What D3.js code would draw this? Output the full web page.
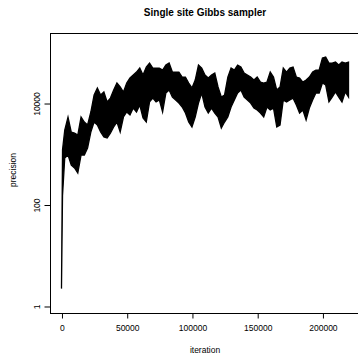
<!DOCTYPE html>
<html>
<head>
<meta charset="utf-8">
<script src="https://cdn.jsdelivr.net/npm/d3@7"></script>
<style>
  body { margin: 0; background: #fff; }
  svg { display: block; font-family: "Liberation Sans", Arial, sans-serif; }
</style>
</head>
<body>
<svg id="chart" width="358" height="354"></svg>
<script>
const iterK = [0, 0.8, 2.5, 5, 7.5, 10, 12.5, 15, 17.5, 20, 22.5, 25,
  27.5, 30, 32.5, 35, 37.5, 40, 42.5, 45, 47.5, 50, 52.5, 55, 57.5, 60,
  62.5, 65, 67.5, 70, 72.5, 75, 77.5, 80, 82.5, 85, 87.5, 90, 92.5, 95,
  97.5, 100, 102.5, 105, 107.5, 110, 112.5, 115, 117.5, 120, 122.5, 125,
  127.5, 130, 132.5, 135, 137.5, 140, 142.5, 145, 147.5, 150, 152.5, 155,
  157.5, 160, 162.5, 165, 167.5, 170, 172.5, 175, 177.5, 180, 182.5, 185,
  187.5, 190, 192.5, 195, 197.5, 200, 202.5, 205, 207.5, 210, 212.5, 215,
  217.5, 220];

// upper and lower edge of the sampled precision trace
const upper = [2.2, 1200,
  2940, 5300, 2680, 2560, 2340, 5300, 4220, 3690, 6650, 14400,
  19800, 14400, 16500, 10500, 12500, 18000, 24800, 20700, 16500, 24800,
  31100, 35600, 40800, 48900, 35600, 51200, 61400, 48900, 48900, 48900,
  44700, 56100, 61400, 40800, 40800, 40800, 32500, 32500, 24800, 19800,
  28400, 56100, 48900, 35600, 31100, 35600, 39000, 20700, 13100, 14400,
  32500, 48900, 44700, 56100, 51200, 39000, 35600, 32500, 28400, 32500,
  25900, 24800, 25900, 40800, 32500, 18000, 20700, 48900, 40800, 48900,
  51200, 32500, 31100, 25900, 28400, 32500, 40800, 44700, 44700, 77000,
  80600, 61400, 61400, 64300, 56100, 64300, 61400, 64300];

const lower = [2.2, 150,
  825, 945, 600, 524, 418, 945, 945, 1300, 2680, 4220,
  3690, 2680, 2140, 2040, 2560, 3370, 4220, 2680, 5300, 6650,
  5800, 7970, 6650, 9130, 5060, 4220, 10500, 12500, 10500, 11500,
  6650, 15700, 18000, 13100, 11500, 10000, 8340, 6350, 4220, 3370,
  5300, 10000, 15700, 8340, 6350, 7970, 6350, 5300, 3220, 4220,
  5300, 8340, 11500, 15700, 18000, 13100, 11500, 10000, 7970, 7280,
  6350, 5300, 8340, 7280, 7970, 3370, 3690, 11500, 10500, 11500,
  12500, 9130, 6350, 7280, 4620, 7970, 11500, 15700, 15700, 24800,
  22600, 10500, 13100, 16500, 13100, 10500, 16500, 13100];

const xTicks = [0, 50000, 100000, 150000, 200000];
const yTicks = [1, 100, 10000];

const svg = d3.select("#chart");
const plotLeft = 50, plotRight = 360, plotTop = 33, plotBottom = 313;

const x = d3.scaleLinear().domain([-8800, 228800]).range([plotLeft, plotRight]);
const y = d3.scaleLog().domain([Math.pow(10, -0.138), Math.pow(10, 5.38)]).range([plotBottom, plotTop]);

const data = iterK.map((k, i) => ({ iter: k * 1000, hi: upper[i], lo: lower[i] }));

const area = d3.area()
  .x(d => x(d.iter))
  .y0(d => y(d.lo))
  .y1(d => y(d.hi));

svg.append("path")
  .datum(data)
  .attr("d", area)
  .attr("fill", "#000")
  .attr("stroke", "#000")
  .attr("stroke-width", 1.3)
  .attr("stroke-linejoin", "miter")
  .attr("stroke-miterlimit", 8);

// box
svg.append("rect")
  .attr("x", plotLeft + 0.5).attr("y", plotTop + 0.5)
  .attr("width", plotRight - plotLeft).attr("height", plotBottom - plotTop)
  .attr("fill", "none").attr("stroke", "#000").attr("stroke-width", 1);

// axes
const xAxis = svg.append("g")
  .attr("transform", `translate(0.5,${plotBottom + 0.5})`)
  .call(d3.axisBottom(x).tickValues(xTicks).tickSize(5).tickPadding(6).tickFormat(d3.format("d")));
xAxis.select(".domain").remove();
xAxis.selectAll("text").attr("font-size", 8.5).attr("font-family", null);

const yAxis = svg.append("g")
  .attr("transform", `translate(${plotLeft + 0.5},0.5)`)
  .call(d3.axisLeft(y).tickValues(yTicks).tickSize(6).tickFormat(d3.format("d")));
yAxis.select(".domain").remove();
yAxis.selectAll("text")
  .attr("font-size", 8.5).attr("font-family", null)
  .attr("text-anchor", "middle")
  .attr("dy", null)
  .attr("x", null)
  .attr("transform", "translate(-10.5,0) rotate(-90)");

// labels
svg.append("text")
  .attr("x", 205).attr("y", 16)
  .attr("text-anchor", "middle")
  .attr("font-size", 10).attr("font-weight", "bold")
  .text("Single site Gibbs sampler");

svg.append("text")
  .attr("x", 205).attr("y", 353)
  .attr("text-anchor", "middle")
  .attr("font-size", 8.5)
  .text("iteration");

svg.append("text")
  .attr("transform", "translate(16,170) rotate(-90)")
  .attr("text-anchor", "middle")
  .attr("font-size", 8.5)
  .text("precision");
</script>
</body>
</html>
